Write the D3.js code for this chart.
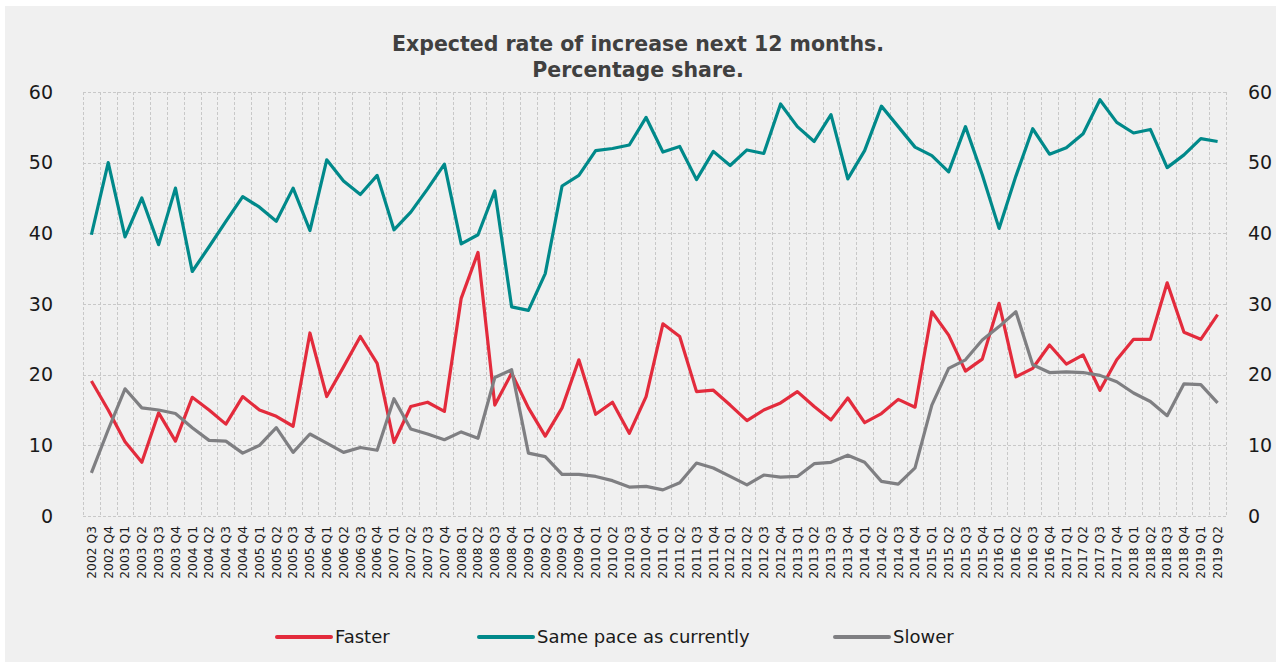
<!DOCTYPE html>
<html>
<head>
<meta charset="utf-8">
<script src="https://cdn.jsdelivr.net/npm/d3@7"></script>
<style>
  body { margin: 0; background: #fff; }
  svg { display: block; }
</style>
</head>
<body>
<script>
const width = 1276;
const height = 662;

const quarters = [];
for (let y = 2002; y <= 2019; y++) {
    for (let q = 1; q <= 4; q++) {
        if (y === 2002 && q < 3) continue;
        if (y === 2019 && q > 2) continue;
        quarters.push(y + ' Q' + q);
    }
}

const faster = [19.1, 15.0, 10.5, 7.6, 14.6, 10.6, 16.8, 15.0, 13.0, 16.9,
    15.0, 14.1, 12.7, 25.9, 16.9, 21.1, 25.4, 21.6, 10.4, 15.5,
    16.1, 14.8, 30.8, 37.3, 15.7, 20.2, 15.3, 11.3, 15.3, 22.1,
    14.4, 16.1, 11.7, 16.9, 27.2, 25.4, 17.6, 17.8, 15.7, 13.5,
    15.0, 16.0, 17.6, 15.5, 13.6, 16.7, 13.2, 14.5, 16.5, 15.4,
    28.9, 25.6, 20.5, 22.2, 30.1, 19.7, 20.9, 24.2, 21.5, 22.8,
    17.8, 22.1, 25.0, 25.0, 33.0, 26.0, 25.0, 28.5];

const samePace = [39.8, 50.0, 39.5, 45.0, 38.4, 46.4, 34.6, 38.1, 41.7, 45.2,
    43.7, 41.7, 46.4, 40.4, 50.4, 47.4, 45.5, 48.2, 40.5, 43.0,
    46.3, 49.8, 38.5, 39.8, 46.0, 29.6, 29.1, 34.3, 46.7, 48.2,
    51.7, 52.0, 52.5, 56.4, 51.5, 52.3, 47.6, 51.6, 49.6, 51.8,
    51.3, 58.3, 55.1, 53.0, 56.8, 47.7, 51.7, 58.0, 55.1, 52.2,
    51.0, 48.7, 55.1, 48.3, 40.7, 48.1, 54.8, 51.2, 52.1, 54.1,
    58.9, 55.7, 54.2, 54.7, 49.3, 51.1, 53.4, 53.0];

const slower = [6.1, 12.2, 18.0, 15.3, 15.0, 14.5, 12.5, 10.7, 10.6, 8.9,
    10.0, 12.5, 9.0, 11.6, 10.3, 9.0, 9.7, 9.3, 16.6, 12.3,
    11.6, 10.8, 11.9, 11.0, 19.6, 20.7, 8.9, 8.4, 5.9, 5.9,
    5.6, 5.0, 4.1, 4.2, 3.7, 4.7, 7.5, 6.8, 5.6, 4.4,
    5.8, 5.5, 5.6, 7.4, 7.6, 8.6, 7.6, 4.9, 4.5, 6.8,
    15.7, 20.9, 22.1, 24.9, 26.8, 28.9, 21.4, 20.3, 20.4, 20.3,
    19.9, 19.0, 17.4, 16.2, 14.2, 18.7, 18.6, 16.0];

const yTicks = [0, 10, 20, 30, 40, 50, 60];

const seriesNames = ['Faster', 'Same pace as currently', 'Slower'];
const seriesColors = ['#e32b3c', '#00898a', '#7f7f82'];
const series = [faster, samePace, slower].map((values, i) => ({
    name: seriesNames[i],
    color: seriesColors[i],
    values: values
}));

const margin = { left: 83, right: 50, top: 92, bottom: 146 };

const svg = d3.select('body')
    .append('svg')
    .attr('width', width)
    .attr('height', height)
    .style('font-family', '"DejaVu Sans", Verdana, sans-serif');

svg.append('rect')
    .attr('x', 5)
    .attr('y', 6)
    .attr('width', width - 5)
    .attr('height', height - 6)
    .attr('fill', '#f0f0f0');

const x = d3.scaleBand()
    .domain(quarters)
    .range([margin.left, width - margin.right]);

const y = d3.scaleLinear()
    .domain([0, 60])
    .range([height - margin.bottom, margin.top]);

// grid
const grid = svg.append('g')
    .attr('stroke', '#c8c8c8')
    .attr('stroke-width', 1)
    .attr('stroke-dasharray', '3,2');

const xEdges = quarters.map(q => x(q)).concat([x.range()[1]]);
grid.selectAll('line.v')
    .data(xEdges)
    .join('line')
    .attr('class', 'v')
    .attr('x1', d => Math.round(d) + 0.5)
    .attr('x2', d => Math.round(d) + 0.5)
    .attr('y1', y(60))
    .attr('y2', y(0));

grid.selectAll('line.h')
    .data(yTicks)
    .join('line')
    .attr('class', 'h')
    .attr('x1', x.range()[0])
    .attr('x2', x.range()[1])
    .attr('y1', d => Math.round(y(d)) + 0.5)
    .attr('y2', d => Math.round(y(d)) + 0.5);

// axes
const leftAxis = svg.append('g')
    .attr('transform', `translate(${margin.left - 30},0)`)
    .call(d3.axisLeft(y).tickValues(yTicks).tickSize(0).tickPadding(0));
const rightAxis = svg.append('g')
    .attr('transform', `translate(${width - margin.right + 22},0)`)
    .call(d3.axisRight(y).tickValues(yTicks).tickSize(0).tickPadding(0));
[leftAxis, rightAxis].forEach(a => {
    a.select('.domain').remove();
    a.selectAll('text')
        .attr('font-size', 19)
        .attr('font-family', '"DejaVu Sans", Verdana, sans-serif')
        .attr('fill', '#1a1a1a');
});

const bottomAxis = svg.append('g')
    .attr('transform', `translate(0,${y(0)})`)
    .call(d3.axisBottom(x).tickSize(0).tickPadding(0));
bottomAxis.select('.domain').remove();
bottomAxis.selectAll('text')
    .attr('font-size', 12.3)
    .attr('font-family', '"DejaVu Sans", Verdana, sans-serif')
    .attr('fill', '#1a1a1a')
    .attr('transform', 'rotate(-90)')
    .attr('text-anchor', 'end')
    .attr('dy', '0.35em')
    .attr('x', -10)
    .attr('y', 0);

// lines
const line = d3.line()
    .x((d, i) => x(quarters[i]) + x.bandwidth() / 2)
    .y(d => y(d));

svg.append('g')
    .selectAll('path')
    .data(series)
    .join('path')
    .attr('fill', 'none')
    .attr('stroke', d => d.color)
    .attr('stroke-width', 3.2)
    .attr('stroke-linejoin', 'round')
    .attr('d', d => line(d.values));

// title
const title = svg.append('text')
    .attr('x', 638)
    .attr('text-anchor', 'middle')
    .attr('font-weight', 'bold')
    .attr('font-size', 20.5)
    .attr('fill', '#404040');
title.append('tspan').attr('x', 638).attr('y', 51).text('Expected rate of increase next 12 months.');
title.append('tspan').attr('x', 638).attr('y', 77).text('Percentage share.');

// legend
const legendX = [277, 479, 835];
const legend = svg.append('g')
    .selectAll('g')
    .data(series)
    .join('g')
    .attr('transform', (d, i) => `translate(${legendX[i]},637)`);
legend.append('line')
    .attr('x1', 0)
    .attr('x2', 54)
    .attr('stroke', d => d.color)
    .attr('stroke-width', 4)
    .attr('stroke-linecap', 'round');
legend.append('text')
    .attr('x', 58)
    .attr('dy', '0.35em')
    .attr('font-size', 18)
    .attr('fill', '#1a1a1a')
    .text(d => d.name);
</script>
</body>
</html>
